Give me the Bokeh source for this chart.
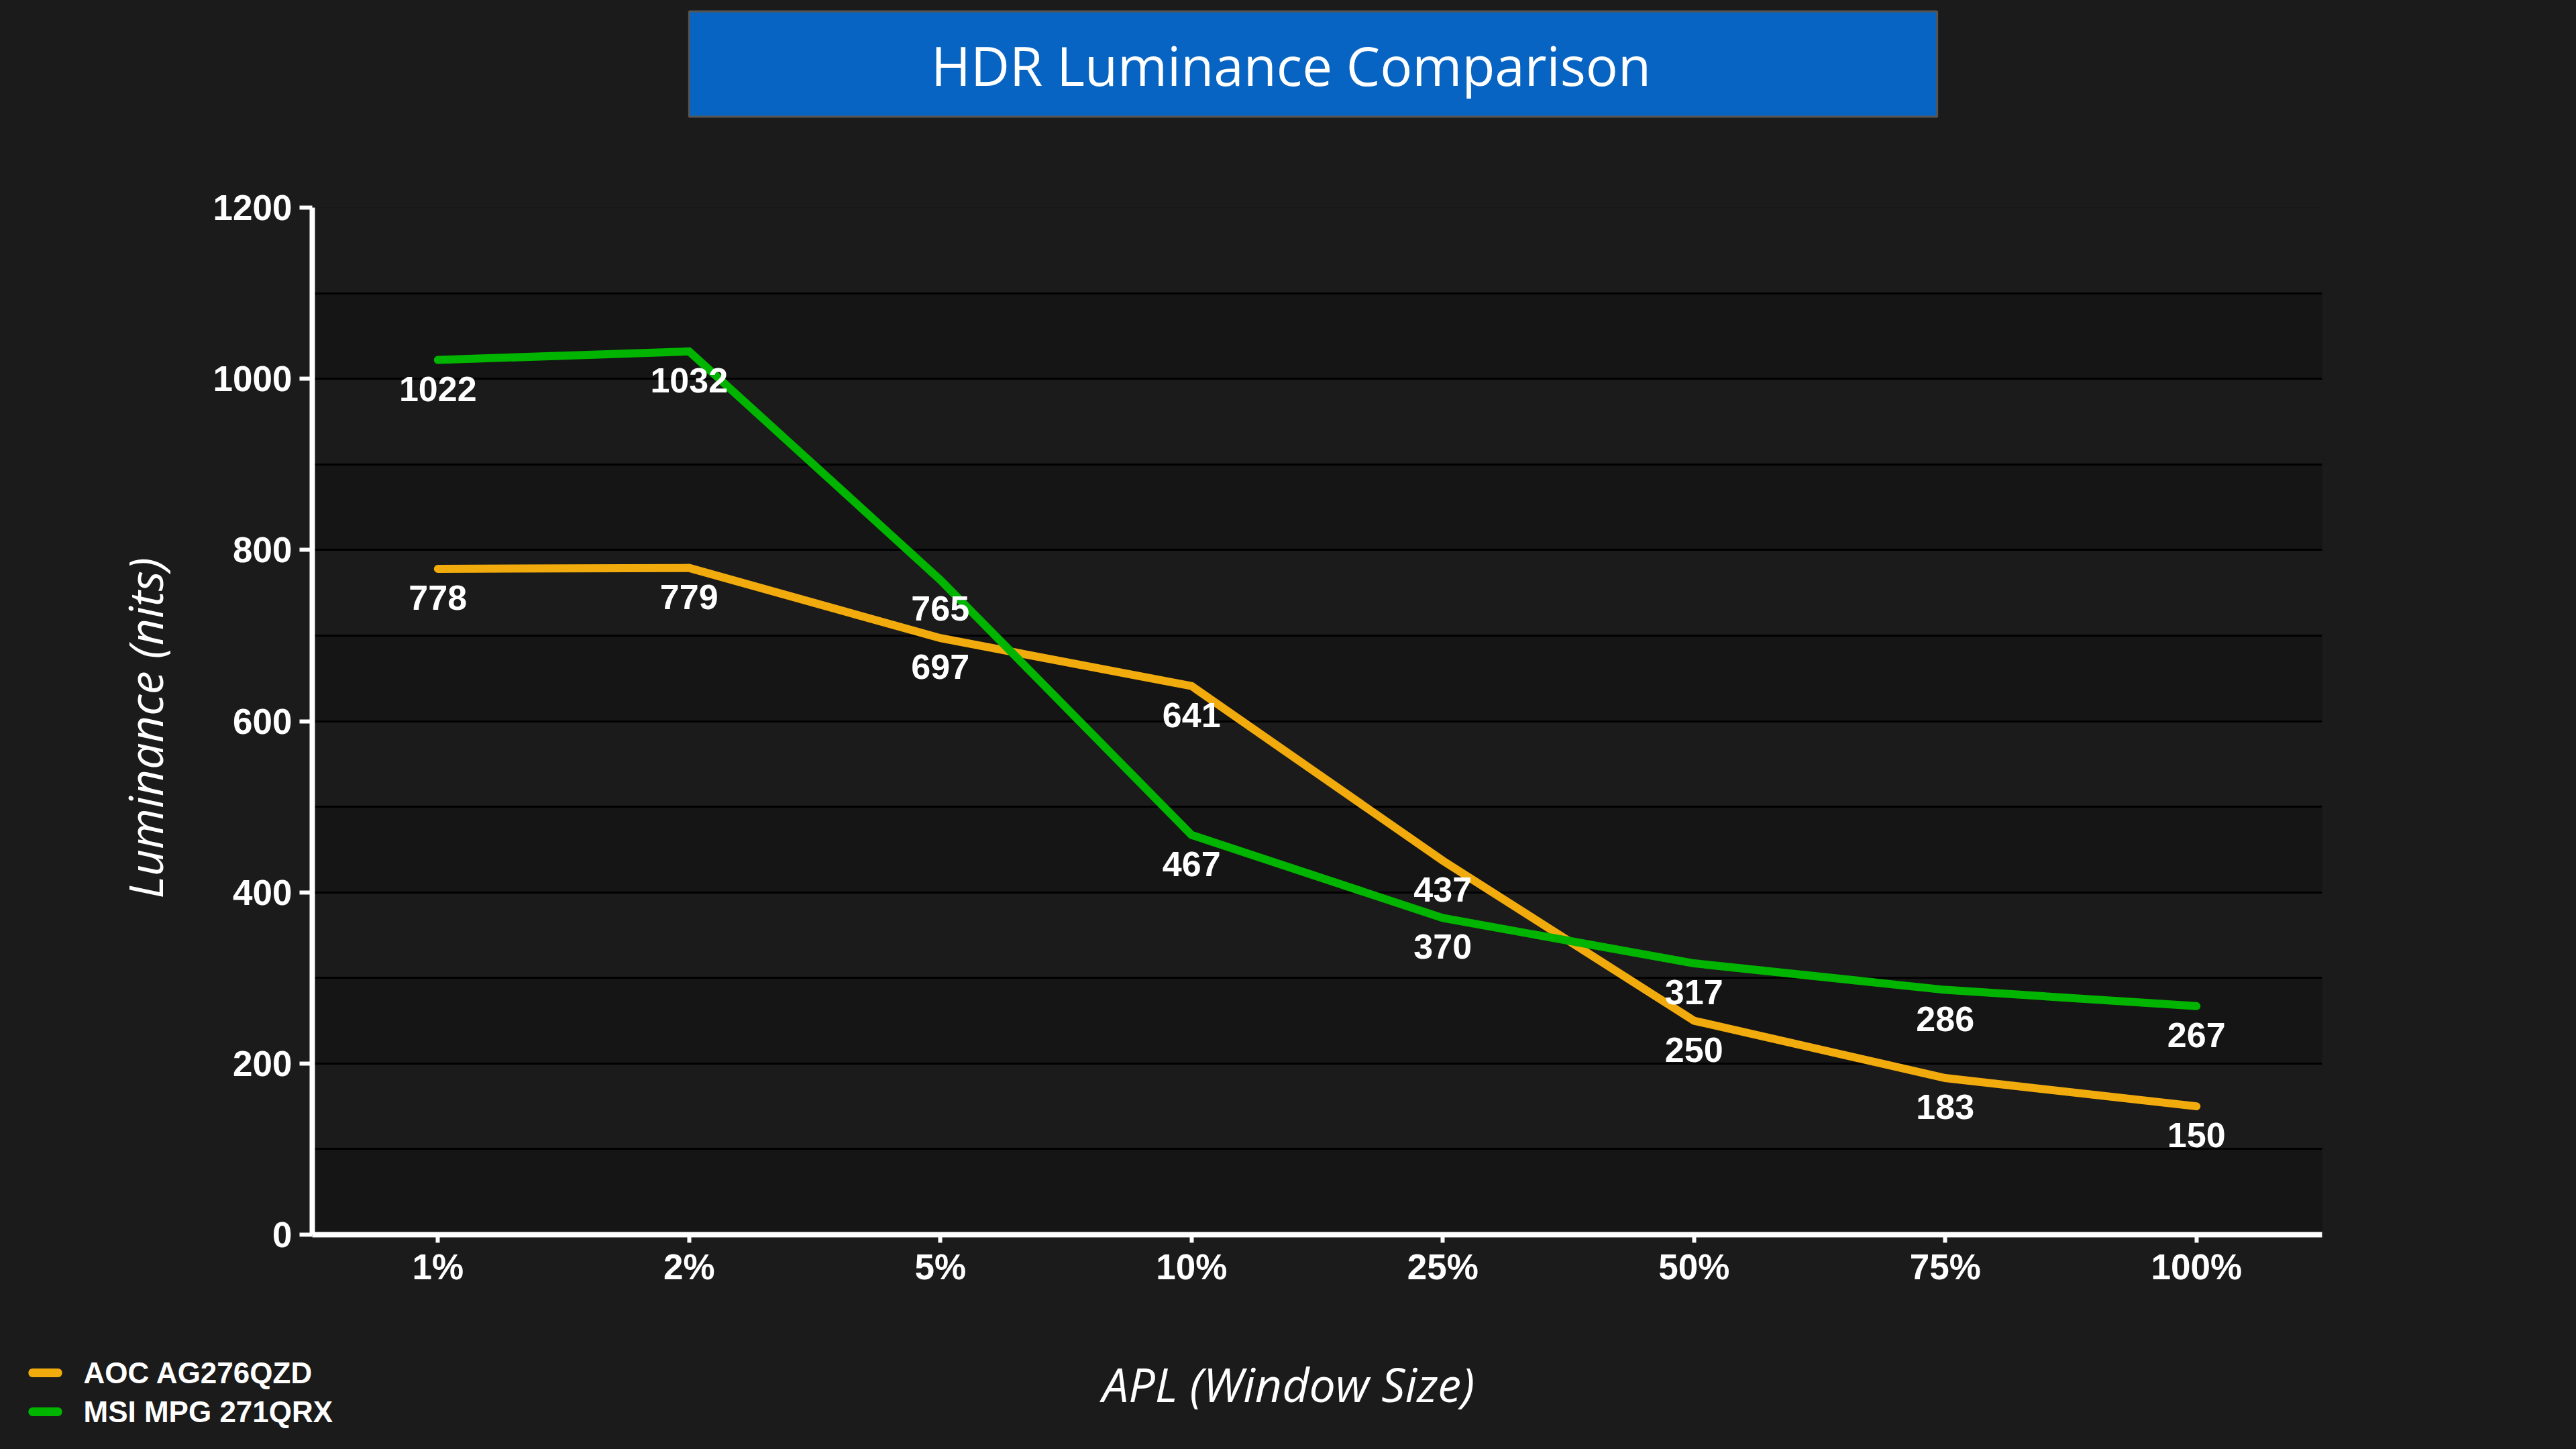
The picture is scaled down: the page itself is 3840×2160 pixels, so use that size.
import math
from bokeh.plotting import figure
from bokeh.models import (ColumnDataSource, FactorRange, Range1d, FixedTicker,
                          SingleIntervalTicker, Label, GlobalInlineStyleSheet)
from bokeh.core.properties import value
from bokeh.embed import file_html
from bokeh.resources import INLINE

# ---------------- data ----------------
categories = ["1%", "2%", "5%", "10%", "25%", "50%", "75%", "100%"]
aoc_name = "AOC AG276QZD"
msi_name = "MSI MPG 271QRX"
aoc_values = [778, 779, 697, 641, 437, 250, 183, 150]
msi_values = [1022, 1032, 765, 467, 370, 317, 286, 267]
y_ticks = [0, 200, 400, 600, 800, 1000, 1200]

title_text = "HDR Luminance Comparison"
x_title = "APL (Window Size)"
y_title = "Luminance (nits)"

# ---------------- style ----------------
BG = "#1b1b1b"
BAND_DARK = "#151515"
ORANGE = "#f2ab0d"
GREEN = "#00b400"
W, H = 3840, 2160
FL, FR, FT, FB = 465, 3461, 309, 1840   # frame edges in canvas px

p = figure(width=W, height=H, output_backend="svg", toolbar_location=None,
           x_range=FactorRange(*categories, range_padding=0),
           y_range=Range1d(0, 1200),
           min_border_left=FL, min_border_right=W - FR,
           min_border_top=FT, min_border_bottom=H - FB)
p.stylesheets = [GlobalInlineStyleSheet(css="body{background:%s;}" % BG)]
p.background_fill_color = BAND_DARK
p.border_fill_color = BG
p.outline_line_color = None

# grid: lines every 100, alternate bands
p.xgrid.visible = False
p.ygrid.ticker = SingleIntervalTicker(interval=100, num_minor_ticks=0)
p.ygrid.grid_line_color = "#000000"
p.ygrid.grid_line_width = 3
p.ygrid.band_fill_color = BG
p.ygrid.band_fill_alpha = 1.0

# axes
for ax in (p.xaxis[0], p.yaxis[0]):
    ax.axis_line_color = "white"
    ax.axis_line_width = 8
    ax.major_tick_line_color = "white"
    ax.major_tick_line_width = 6
    ax.major_tick_in = 0
    ax.minor_tick_line_color = None
    ax.major_label_text_color = "white"
    ax.major_label_text_font = "Liberation Sans"
    ax.major_label_text_font_style = "bold"
    ax.major_label_text_font_size = "53px"

p.yaxis.ticker = FixedTicker(ticks=y_ticks)
p.yaxis.major_tick_out = 19
p.yaxis.major_label_standoff = 11
p.xaxis.major_tick_out = 12
p.xaxis.major_label_standoff = 6

# lines
src = ColumnDataSource(dict(x=categories, aoc=aoc_values, msi=msi_values,
                            aoc_t=[str(v) for v in aoc_values],
                            msi_t=[str(v) for v in msi_values]))
r_aoc = p.line("x", "aoc", source=src, line_color=ORANGE, line_width=12,
               line_cap="round", line_join="miter")
r_msi = p.line("x", "msi", source=src, line_color=GREEN, line_width=12,
               line_cap="round", line_join="miter")

# data labels
lab_kw = dict(text_color="white", text_font=value("Liberation Sans"),
              text_font_style="bold", text_font_size="52px",
              text_align="center", text_baseline="middle", y_offset=43)
p.text(x="x", y="aoc", text="aoc_t", source=src, **lab_kw)
p.text(x="x", y="msi", text="msi_t", source=src, **lab_kw)


def clabel(x, y, text, **kw):
    return Label(x=x, y=y, x_units="canvas", y_units="canvas", text=text,
                 text_color="white", **kw)


def cbox(cx, cy, ph, pv, **kw):
    # a box drawn as the padded background of an (empty) label
    return Label(x=cx, y=cy, x_units="canvas", y_units="canvas", text=" ",
                 text_font_size="1px", text_align="center",
                 text_baseline="middle",
                 padding=dict(left=ph, right=ph, top=pv, bottom=pv), **kw)


# title box (side panel so it is not clipped to the frame)
p.add_layout(cbox(1957, 95, 930, 78, background_fill_color="#0764c2",
                  background_fill_alpha=1.0, border_line_color="#555555",
                  border_line_width=3), "above")
p.add_layout(clabel(1924, 96, title_text, text_font="Open Sans",
                    text_font_size="80px", text_align="center",
                    text_baseline="alphabetic"), "above")

# axis titles
p.add_layout(clabel(1920, 2062, x_title, text_font="Open Sans",
                    text_font_style="italic", text_font_size="70px",
                    text_align="center", text_baseline="alphabetic"), "below")
p.add_layout(clabel(215, 1085, y_title, text_font="Open Sans",
                    text_font_style="italic", text_font_size="70px",
                    text_align="center", text_baseline="alphabetic",
                    angle=math.pi / 2), "left")

# legend (bottom-left)
for col, name, yc in ((ORANGE, aoc_name, 2046), (GREEN, msi_name, 2104)):
    p.add_layout(cbox(67, yc, 25, 6, background_fill_color=col,
                      background_fill_alpha=1.0, border_radius=6), "below")
    p.add_layout(clabel(124, yc, name, text_font="Liberation Sans",
                        text_font_style="bold", text_font_size="44px",
                        text_align="left", text_baseline="alphabetic"), "below")

open("out.html", "w").write(file_html(p, INLINE))
